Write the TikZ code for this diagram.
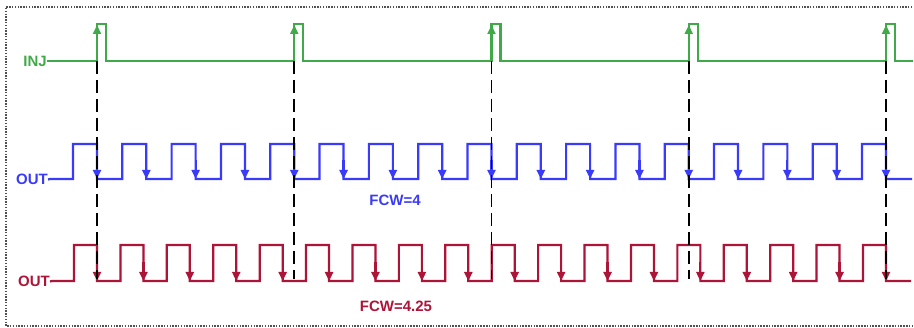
\documentclass[tikz,border=0pt]{standalone}
\usepackage{fontspec}
\setmainfont{Liberation Sans}
\usetikzlibrary{arrows.meta}
\definecolor{injgreen}{RGB}{64,170,72}
\definecolor{outblue}{RGB}{58,58,250}
\definecolor{outred}{RGB}{172,20,56}
\definecolor{framegray}{RGB}{80,80,80}
\tikzset{
  wave/.style={line width=2.2pt, line join=miter},
  lbl/.style={font=\fontsize{15}{17}\selectfont\bfseries, inner sep=0pt},
  edgearrow/.style={line width=2.2pt, -{Triangle[width=8pt,length=9pt]}},
  guide/.style={line width=1.9pt, black, dash pattern=on 13pt off 6pt},
  framestyle/.style={line width=1.6pt, framegray, dash pattern=on 1.5pt off 1.3pt}
}
\begin{document}
\begin{tikzpicture}[x=1pt,y=-1pt]
\useasboundingbox (0,0) rectangle (914,328);
% frame (right side cut off)
\draw[framestyle] (915,7) -- (6,7) -- (6,326) -- (915,326);

% labels
\node[lbl, text=injgreen, anchor=east] (inj) at (47,61) {INJ};
\node[lbl, text=outblue, anchor=east] (outa) at (48,179.5) {OUT};
\node[lbl, text=outred, anchor=east] (outb) at (50,281.5) {OUT};
\node[lbl, text=outblue] (fcwa) at (395,200) {FCW=4};
\node[lbl, text=outred] (fcwb) at (396,306.5) {FCW=4.25};

% INJ waveform
\draw[wave, injgreen] (inj.east) -- (47,61)
  foreach \k in {0,...,4} { -- ({97+\k*197.25},61) -- ({97+\k*197.25},24) -- ({106+\k*197.25},24) -- ({106+\k*197.25},61) }
  -- (913,61);
\foreach \k in {0,...,4}
  \draw[edgearrow, injgreen] ({97+\k*197.25},50) -- ({97+\k*197.25},25);

% blue OUT, FCW=4
\draw[wave, outblue] (outa.east) -- (50,179)
  foreach \k in {0,...,16} { -- ({73+\k*49.3125},179) -- ({73+\k*49.3125},144) -- ({97+\k*49.3125},144) -- ({97+\k*49.3125},179) }
  -- (912,179);
\foreach \k in {0,...,16}
  \draw[edgearrow, outblue] ({97+\k*49.3125},160) -- ({97+\k*49.3125},179);

% red OUT, FCW=4.25
\draw[wave, outred] (outb.east) -- (52,281)
  foreach \k in {0,...,17} { -- ({74+\k*46.412},281) -- ({74+\k*46.412},245) -- ({97+\k*46.412},245) -- ({97+\k*46.412},281) }
  -- (911,281);
\foreach \k in {0,...,17}
  \draw[edgearrow, outred] ({97+\k*46.412},262) -- ({97+\k*46.412},281);

% dashed guides
\foreach \k in {0,...,4}
  \draw[guide] ({97+\k*197.25},61) -- ({97+\k*197.25},279);
\end{tikzpicture}
\end{document}
